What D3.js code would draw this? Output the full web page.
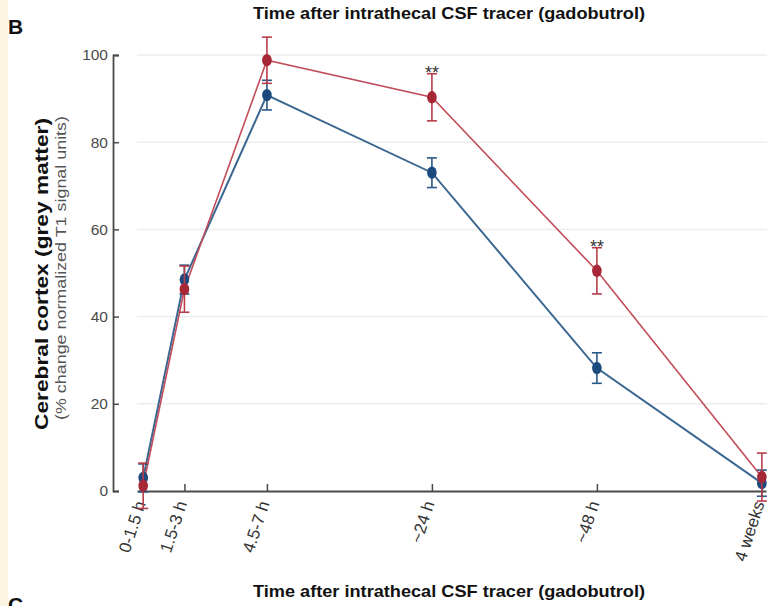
<!DOCTYPE html>
<html>
<head>
<meta charset="utf-8">
<script src="https://cdn.jsdelivr.net/npm/d3@7"></script>
<style>
  body { margin: 0; background: #fff; }
  svg { display: block; font-family: "Liberation Sans", Arial, sans-serif; }
</style>
</head>
<body>
<svg id="chart" width="767" height="606"></svg>
<script>
// Time points after intrathecal gadobutrol and group means (% change, T1 signal)
const timeLabels = ["0-1.5 h", "1.5-3 h", "4.5-7 h", "~24 h", "~48 h", "4 weeks"];
const timePos = [0, 0.5, 1.5, 3.5, 5.5, 7.5];
const groupRed = [1.2, 46.3, 98.8, 90.3, 50.5, 3.2];
const groupRedErr = [5.2, 5.3, 5.3, 5.4, 5.3, 5.5];
const groupBlue = [3.0, 48.5, 90.8, 73.0, 28.2, 1.8];
const groupBlueErr = [3.2, 3.3, 3.4, 3.4, 3.5, 3.0];
const significance = ["", "", "", "**", "**", ""];
const yTicks = [0, 20, 40, 60, 80, 100];

const svg = d3.select("#chart");

// faint cream margin on the left edge of the figure
svg.append("rect").attr("x", 0).attr("y", 0).attr("width", 8).attr("height", 606)
  .attr("fill", "#fbf5e2");

const x = d3.scaleLinear().domain([-0.075, 7.55]).range([137, 766]);
const y = d3.scaleLinear().domain([0, 100]).range([491, 55]);

// horizontal grid
svg.append("g").selectAll("line")
  .data(yTicks.filter(v => v > 0))
  .join("line")
  .attr("x1", 137).attr("x2", 767)
  .attr("y1", d => y(d)).attr("y2", d => y(d))
  .attr("stroke", "#ededed").attr("stroke-width", 1.5);

// y axis (offset to the left, inward ticks)
const yAxis = svg.append("g")
  .attr("transform", "translate(113,0)")
  .call(d3.axisLeft(y).tickValues(yTicks).tickSize(-6).tickSizeOuter(-6).tickPadding(5));
yAxis.select(".domain").attr("stroke", "#4a4a4a").attr("stroke-width", 1.8);
yAxis.selectAll(".tick line").attr("stroke", "#4a4a4a").attr("stroke-width", 1.5);
yAxis.selectAll(".tick text").attr("fill", "#4a4a4a").style("font-size", "15.5px");

// x axis
const xAxis = svg.append("g")
  .attr("transform", "translate(0,491)")
  .call(d3.axisBottom(x).tickValues(timePos).tickFormat((d, i) => timeLabels[i])
    .tickSize(-7).tickSizeOuter(0));
xAxis.select(".domain").attr("stroke", "#4a4a4a").attr("stroke-width", 2);
xAxis.selectAll(".tick line").attr("stroke", "#4a4a4a").attr("stroke-width", 1.5);
xAxis.selectAll(".tick text")
  .attr("fill", "#333")
  .style("font-size", "17px")
  .attr("text-anchor", "end")
  .attr("x", -11).attr("y", 0).attr("dy", "0.35em")
  .attr("transform", "rotate(-72)");

// series
const series = [
  { values: groupBlue, err: groupBlueErr, line: "#3b6791", mark: "#1d4a7e", bar: "#2b5886", width: 2 },
  { values: groupRed, err: groupRedErr, line: "#c24d5a", mark: "#a62836", bar: "#b73d4a", width: 1.6 }
];

const line = d3.line().x((d, i) => x(timePos[i])).y(d => y(d));

series.forEach(s => {
  svg.append("path").datum(s.values)
    .attr("d", line).attr("fill", "none")
    .attr("stroke", s.line).attr("stroke-width", s.width);
});

series.forEach(s => {
  const g = svg.append("g");
  const pts = s.values.map((v, i) => ({ v, e: s.err[i], t: timePos[i] }));
  g.selectAll("line.bar").data(pts).join("line").attr("class", "bar")
    .attr("x1", d => x(d.t)).attr("x2", d => x(d.t))
    .attr("y1", d => y(d.v - d.e)).attr("y2", d => y(d.v + d.e))
    .attr("stroke", s.bar).attr("stroke-width", 1.6);
  ["top", "bot"].forEach(k => {
    g.selectAll("line.cap" + k).data(pts).join("line").attr("class", "cap" + k)
      .attr("x1", d => x(d.t) - 5).attr("x2", d => x(d.t) + 5)
      .attr("y1", d => y(k === "top" ? d.v + d.e : d.v - d.e))
      .attr("y2", d => y(k === "top" ? d.v + d.e : d.v - d.e))
      .attr("stroke", s.bar).attr("stroke-width", 1.6);
  });
  g.selectAll("ellipse").data(pts).join("ellipse")
    .attr("cx", d => x(d.t)).attr("cy", d => y(d.v))
    .attr("rx", 4.8).attr("ry", 6.2)
    .attr("fill", s.mark);
});

// significance stars above the upper error bar of the red group
svg.append("g").selectAll("text")
  .data(timePos.map((t, i) => ({ t, s: significance[i], top: groupRed[i] + groupRedErr[i] })).filter(d => d.s))
  .join("text")
  .attr("x", d => x(d.t)).attr("y", d => y(d.top) + 5)
  .attr("text-anchor", "middle")
  .attr("fill", "#333").style("font-size", "18px")
  .text(d => d.s);

// titles
svg.append("text").attr("x", 449).attr("y", 19).attr("text-anchor", "middle")
  .style("font-size", "16.5px").style("font-weight", "bold").attr("fill", "#111")
  .attr("textLength", 392).attr("lengthAdjust", "spacingAndGlyphs")
  .text("Time after intrathecal CSF tracer (gadobutrol)");
svg.append("text").attr("x", 449).attr("y", 597).attr("text-anchor", "middle")
  .style("font-size", "16.5px").style("font-weight", "bold").attr("fill", "#111")
  .attr("textLength", 392).attr("lengthAdjust", "spacingAndGlyphs")
  .text("Time after intrathecal CSF tracer (gadobutrol)");

svg.append("text").attr("transform", "translate(48,274) rotate(-90)").attr("text-anchor", "middle")
  .style("font-size", "18px").style("font-weight", "bold").attr("fill", "#111")
  .attr("textLength", 312).attr("lengthAdjust", "spacingAndGlyphs")
  .text("Cerebral cortex (grey matter)");
svg.append("text").attr("transform", "translate(66,268) rotate(-90)").attr("text-anchor", "middle")
  .style("font-size", "15px").attr("fill", "#555")
  .attr("textLength", 304).attr("lengthAdjust", "spacingAndGlyphs")
  .text("(% change normalized T1 signal units)");

// panel letters
svg.append("text").attr("x", 8).attr("y", 34)
  .style("font-size", "21px").style("font-weight", "bold").attr("fill", "#111").text("B");
svg.append("text").attr("x", 8).attr("y", 612)
  .style("font-size", "21px").style("font-weight", "bold").attr("fill", "#111").text("C");
</script>
</body>
</html>
